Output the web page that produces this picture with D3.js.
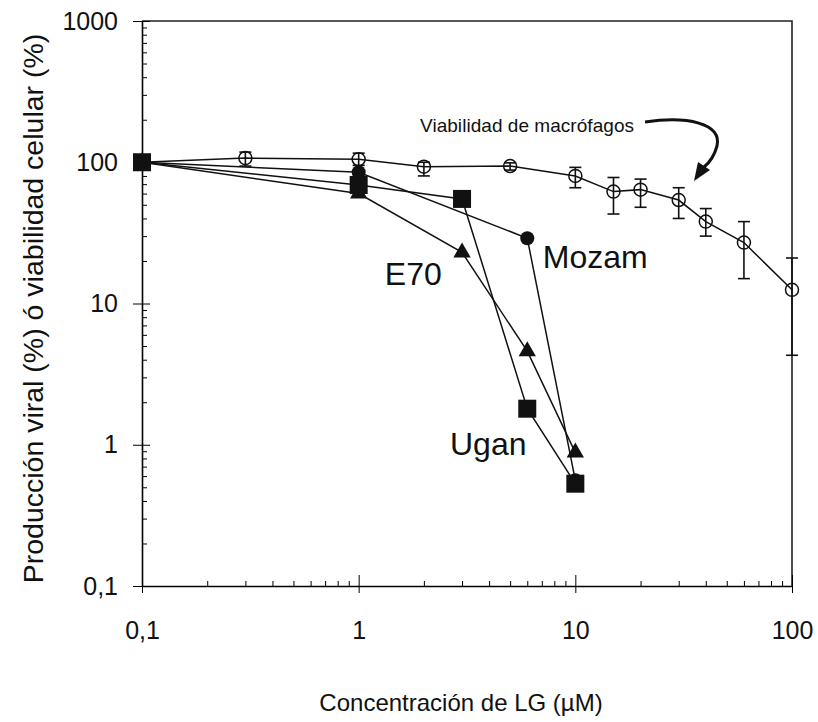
<!DOCTYPE html>
<html>
<head>
<meta charset="utf-8">
<script src="https://cdn.jsdelivr.net/npm/d3@7"></script>
<style>
  body { margin: 0; background: #fff; }
  text { font-family: "Liberation Sans", Arial, sans-serif; fill: #111; }
</style>
</head>
<body>
<svg id="chart" width="818" height="722"></svg>
<script>
// axis ticks
const xTicks = [0.1, 1, 10, 100];
const xTickLabels = ["0,1", "1", "10", "100"];
const yTicks = [0.1, 1, 10, 100, 1000];
const yTickLabels = ["0,1", "1", "10", "100", "1000"];

// macrophage viability (open circles, with error bars)
const viabX = [0.1, 0.3, 1, 2, 5, 10, 15, 20, 30, 40, 60, 100];
const viabY = [100, 107, 105, 93, 94, 80, 62, 64, 54, 38, 27, 12.5];
const viabHi = [100, 118, 116, 100, 99, 92, 78, 76, 66, 47, 38, 21];
const viabLo = [100, 94, 95, 80, 88, 66, 43, 48, 40, 30, 15, 4.3];

// viral production per isolate
const mozamX = [0.1, 1, 6, 10];
const mozamY = [100, 85, 29, 0.56];
const uganX = [0.1, 1, 3, 6, 10];
const uganY = [100, 69, 55, 1.8, 0.53];
const e70X = [0.1, 1, 3, 6, 10];
const e70Y = [100, 60, 23, 4.6, 0.88];

const margin = {top: 21, right: 26, bottom: 136, left: 142};
const width = 818 - margin.left - margin.right;
const height = 722 - margin.top - margin.bottom;

const svg = d3.select('#chart')
  .append('g')
  .attr('transform', 'translate(' + margin.left + ',' + margin.top + ')');

const x = d3.scaleLog().domain([0.1, 100]).range([0, width]);
const y = d3.scaleLog().domain([0.1, 1000]).range([height, 0]);

// minor ticks (2..9 in each decade)
const minorX = [], minorY = [];
[0.1, 1, 10].forEach(function(d) { for (let k = 2; k < 10; k++) minorX.push(d * k); });
[0.1, 1, 10, 100].forEach(function(d) { for (let k = 2; k < 10; k++) minorY.push(d * k); });

// frame (top and right)
svg.append('path')
  .attr('d', 'M0,0H' + width + 'V' + height)
  .attr('fill', 'none').attr('stroke', '#222').attr('stroke-width', 1.6);

// X axis
const gx = svg.append('g').attr('transform', 'translate(0,' + height + ')');
gx.call(d3.axisBottom(x).tickValues(minorX).tickSize(-5).tickFormat(''));
gx.call(g => g.select('.domain').remove());
const gx2 = svg.append('g').attr('transform', 'translate(0,' + height + ')')
  .call(d3.axisBottom(x).tickValues(xTicks).tickSizeInner(7).tickSizeOuter(0)
    .tickFormat((d, i) => xTickLabels[i]).tickPadding(46));
gx2.selectAll('.tick').append('line').attr('y2', -11).attr('stroke', 'currentColor');
gx2.selectAll('text').style('font-size', '25px').attr('dy', '0');

// Y axis
const gy = svg.append('g');
gy.call(d3.axisLeft(y).tickValues(minorY).tickSize(-5).tickFormat(''));
gy.call(g => g.select('.domain').remove());
const gy2 = svg.append('g')
  .call(d3.axisLeft(y).tickValues(yTicks).tickSizeInner(9).tickSizeOuter(0)
    .tickFormat((d, i) => yTickLabels[i]).tickPadding(15));
gy2.selectAll('.tick').append('line').attr('x2', 8).attr('stroke', 'currentColor');
gy2.selectAll('text').style('font-size', '25px');

svg.selectAll('.domain').attr('stroke-width', 1.6);
svg.selectAll('.tick line').attr('stroke-width', 1);

// axis titles
svg.append('text')
  .attr('x', width / 2 - 6).attr('y', height + 125)
  .attr('text-anchor', 'middle').style('font-size', '24px')
  .text('Concentración de LG (µM)');
svg.append('text')
  .attr('transform', 'translate(' + (-99) + ',' + (height / 2 + 5) + ') rotate(-90)')
  .attr('text-anchor', 'middle').style('font-size', '28.5px')
  .text('Producción viral (%) ó viabilidad celular (%)');

const line = d3.line().x(d => x(d[0])).y(d => y(d[1]));
const zip = (a, b) => a.map((v, i) => [v, b[i]]);

// viability
const viab = zip(viabX, viabY);
svg.append('path').datum(viab).attr('d', line)
  .attr('fill', 'none').attr('stroke', '#111').attr('stroke-width', 1.5);
const eb = svg.append('g').selectAll('g').data(viabX.map((v, i) => i).filter(i => viabHi[i] !== viabLo[i]))
  .enter().append('g').attr('stroke', '#111').attr('stroke-width', 1.6);
eb.append('line').attr('x1', i => x(viabX[i])).attr('x2', i => x(viabX[i]))
  .attr('y1', i => y(viabHi[i])).attr('y2', i => y(viabLo[i]));
eb.append('line').attr('x1', i => x(viabX[i]) - 6).attr('x2', i => x(viabX[i]) + 6)
  .attr('y1', i => y(viabHi[i])).attr('y2', i => y(viabHi[i]));
eb.append('line').attr('x1', i => x(viabX[i]) - 6).attr('x2', i => x(viabX[i]) + 6)
  .attr('y1', i => y(viabLo[i])).attr('y2', i => y(viabLo[i]));
svg.append('g').selectAll('circle').data(viab.slice(1)).enter().append('circle')
  .attr('cx', d => x(d[0])).attr('cy', d => y(d[1])).attr('r', 6.5)
  .attr('fill', 'none').attr('stroke', '#111').attr('stroke-width', 1.5);

// Mozam
const mozam = zip(mozamX, mozamY);
svg.append('path').datum(mozam).attr('d', line)
  .attr('fill', 'none').attr('stroke', '#111').attr('stroke-width', 1.5);
svg.append('g').selectAll('circle').data(mozam).enter().append('circle')
  .attr('cx', d => x(d[0])).attr('cy', d => y(d[1])).attr('r', 7).attr('fill', '#111');

// E70
const e70 = zip(e70X, e70Y);
svg.append('path').datum(e70).attr('d', line)
  .attr('fill', 'none').attr('stroke', '#111').attr('stroke-width', 1.5);
svg.append('g').selectAll('path.tri').data(e70).enter().append('path')
  .attr('class', 'tri')
  .attr('transform', d => 'translate(' + x(d[0]) + ',' + y(d[1]) + ')')
  .attr('d', d3.symbol(d3.symbolTriangle, 130))
  .attr('fill', '#111');

// Ugan
const ugan = zip(uganX, uganY);
svg.append('path').datum(ugan).attr('d', line)
  .attr('fill', 'none').attr('stroke', '#111').attr('stroke-width', 1.5);
svg.append('g').selectAll('rect').data(ugan).enter().append('rect')
  .attr('x', d => x(d[0]) - 9).attr('y', d => y(d[1]) - 9)
  .attr('width', 18).attr('height', 18).attr('fill', '#111');

// series labels
svg.append('text').attr('x', x(1.32)).attr('y', y(13.5)).style('font-size', '32px').text('E70');
svg.append('text').attr('x', x(7.08)).attr('y', y(17.8)).style('font-size', '32px').text('Mozam');
svg.append('text').attr('x', x(2.64)).attr('y', y(0.845)).style('font-size', '32px').text('Ugan');

// annotation
svg.append('text').attr('x', 278).attr('y', 111).style('font-size', '19px')
  .attr('textLength', 214).text('Viabilidad de macrófagos');
svg.append('path')
  .attr('d', 'M503,101 C545,95 580,102 575,125 C572,136 567,142 562,146')
  .attr('fill', 'none').attr('stroke', '#111').attr('stroke-width', 3);
svg.append('path')
  .attr('d', 'M552,160 L556,141 L568,149 Z')
  .attr('fill', '#111');
</script>
</body>
</html>
